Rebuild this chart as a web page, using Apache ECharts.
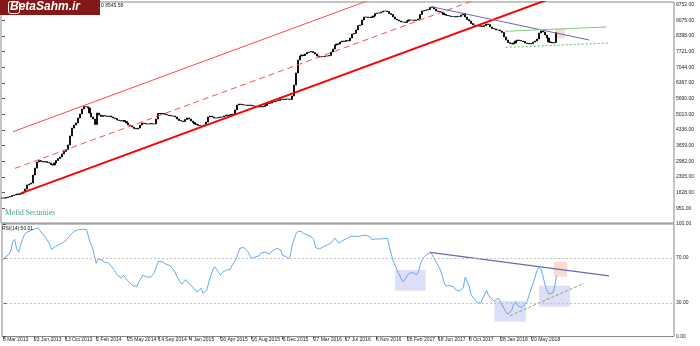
<!DOCTYPE html>
<html><head><meta charset="utf-8">
<script src="https://cdn.jsdelivr.net/npm/echarts@6/dist/echarts.min.js"></script>
<style>html,body{margin:0;padding:0;background:#fff}#c{width:700px;height:346px}</style>
</head><body><div id="c"></div>
<script>
// Weekly closes (starting 3 Mar 2013)
const closes = [
1396,1390,1418,1440,1460,1505,1525,1548,1568,1565,
1590,1655,1785,1958,2000,2045,2390,2690,2952,3015,
2975,2950,2975,2930,2910,2845,2822,2910,3015,3100,
3170,3300,3410,3490,3690,4080,4420,4550,4640,4855,
5030,5245,5350,5345,5290,5070,4900,4810,4575,5070,
4985,4920,4960,4940,4920,4940,4900,4855,4830,4767,
4745,4724,4745,4700,4640,4551,4530,4465,4400,4378,
4420,4550,4640,4615,4595,4595,4615,4595,4595,4810,
5050,5050,5027,5050,5005,4984,4960,4940,4940,4900,
4810,4745,4724,4700,4790,4855,4810,4724,4660,4595,
4575,4530,4508,4508,4551,4680,4900,4940,4900,4855,
4855,4876,4900,4900,4940,4984,4960,4984,5005,5027,
5200,5416,5459,5438,5416,5416,5395,5416,5395,5373,
5351,5330,5351,5330,5351,5395,5459,5480,5502,5545,
5567,5589,5610,5654,5675,5654,5675,5675,5654,5805,
6280,6800,7361,7534,7578,7556,7620,7685,7707,7728,
7685,7620,7534,7491,7513,7513,7534,7534,7556,7707,
7837,8010,8053,8053,8140,8183,8160,8205,8183,8313,
8485,8507,8658,8852,8874,9091,9220,9220,9199,9199,
9220,9264,9372,9393,9393,9437,9480,9480,9458,9372,
9328,9220,9134,9091,9048,9004,9004,8983,9048,9091,
9091,9091,9070,9091,9134,9328,9480,9502,9523,9545,
9631,9653,9566,9480,9458,9437,9393,9328,9307,9285,
9264,9242,9242,9220,9242,9242,9307,9372,9220,9112,
9048,8940,8874,8852,8852,8831,8831,8810,8852,8918,
8896,8788,8723,8701,8658,8658,8615,8550,8356,8226,
8118,8075,8053,8096,8183,8226,8205,8183,8160,8096,
8075,8053,8075,8140,8183,8270,8529,8615,8572,8442,
8313,8140,8118,8096,8118,8546];
// RSI(14) values
const rsi = [
68,70.5,71.6,73,76,84,86.4,78,75,76,
86,90.5,92.5,93.2,94,94.7,95.4,96.2,96.6,97,
92,90,88,85,82,77.5,78.5,80,81,81.8,
82.5,83.5,84.3,86.5,88.5,91,92.5,93.8,94.5,95,
95.3,95.3,95.3,95,94.5,82.8,79.5,72,65,69,
70,68,66,65.2,65.6,64,62.2,59.5,57,54.3,
53,52,54.5,53,50,48.2,47.2,45,44,44.5,
48.5,51.5,54.5,53.8,53,52.8,52.6,53,57,62.5,
67,67.5,66.3,65.3,64.3,63.5,63,62.7,59,55.5,
52,49,46.5,45,50.5,49.5,46.5,45,43.5,42,
39.5,39,43,38.4,40,41.5,48.5,54,59,62,
59.5,57,54.7,57,58,59,59.4,59.8,63.5,66,
68.6,74,78.4,79,79.2,78.5,75.5,72.5,69.5,70.2,
70.8,71.9,71.8,74.5,73.2,75,75.5,73.3,74.8,76.5,
78.2,78.4,77.8,76.9,72,72,71,69,72.5,82,
87,91.7,93.8,94,93,91.2,90.2,90.2,90,88.3,
86.2,79,77.5,77.8,78.5,80,80.8,81.4,82.5,83.2,
85.5,87.5,85,83,84,85.3,86.3,87.2,88.5,89,
88.3,89.2,90,88.8,89.5,89.8,88.5,90,90.2,88.6,
86,85,86.8,87.2,86.6,86.4,87,87.3,87.3,79,
73,66.5,65,59,55,51.5,48.5,50,53.5,56,
57.6,56.8,55.7,54.8,58,65,68.8,71,72.8,74.2,
74.8,72.5,69.5,66,63.2,60,55,48.5,45,44.5,
45.3,45.4,44.2,41.5,42.4,40.4,41.6,43.5,52.8,52.5,
45,37,35.4,33,30,29.7,29.8,30.7,37.5,41,
36.5,34.3,32.8,31.3,30.9,34,32.5,28,24.8,22,
19.8,20.3,23.6,29,30.8,27.5,28,25.8,26.8,29,
31.7,37.5,42.5,47.5,53,59,61.5,59.5,54,46.5,
41.5,38,37.2,38.5,44,54];
const tickLabels = ['3 Mar 2013','23 Jun 2013','13 Oct 2013','2 Feb 2014','25 May 2014','14 Sep 2014','4 Jan 2015','26 Apr 2015','16 Aug 2015','6 Dec 2015','27 Mar 2016','17 Jul 2016','6 Nov 2016','26 Feb 2017','18 Jun 2017','8 Oct 2017','28 Jan 2018','20 May 2018'];
const priceTicks = [951,1628,2305,2982,3659,4336,5013,5690,6367,7044,7721,8398,9075,9752];
const rsiTicks = [0,30,70,100];
const rsiLevels = [30,70];
const totalSlots = 346;
const labelStep = 16;
// trend lines / boxes in data coordinates [week index, value]
const redThick = [[9.65,1599],[280,9955]];
const redThin = [[5.68,4262],[189,9955]];
const redDash = [[6.7,2679],[243.1,9955]];
const blueTop = [[220.8,9666],[301.9,8226]];
const greenTop = [[258.5,8602],[310.9,8788]];
const greenDotTop = [[259,7910],[312.6,8096]];
const pinkTop = [[284.3,8732],[289.3,8299]];
const blueRsi = [[219.9,74.8],[312.1,53.8]];
const greenDotRsi = [[261.1,18.5],[299.2,47.3]];
const pinkRsi = [[283.5,66.5],[290.5,53.2]];
const lavRsi = [[[201.9,59.1],[217.7,40.7]],[[253,31.6],[269.2,13.2]],[[276,45.2],[292,26.5]]];

const cats = [];
for (let i = 0; i < totalSlots; i++) cats.push('w' + i);
const candles = closes.map((c, i) => {
  const o = i === 0 ? c : closes[i - 1];
  return [o, c, Math.min(o, c), Math.max(o, c)];
});
const hasLabel = idx => idx % labelStep === 0 && !!tickLabels[idx / labelStep];

const FONT = '"Liberation Sans", Arial, sans-serif';
const chart = echarts.init(document.getElementById('c'), null, {renderer: 'canvas'});
const lineS = (data, xi, yi, color, width, type, extra) => Object.assign({
  type: 'line', xAxisIndex: xi, yAxisIndex: yi, data: data, showSymbol: false, symbol: 'none',
  clip: true, silent: true, animation: false,
  lineStyle: {color: color, width: width, type: type || 'solid'}, z: 4
}, extra || {});

chart.setOption({
  animation: false,
  backgroundColor: '#fff',
  grid: [
    {left: 1, right: 26, top: 2, height: 221, show: true, borderColor: '#888', borderWidth: 1},
    {left: 1, right: 26, top: 224, height: 112.5, show: true, borderColor: '#888', borderWidth: 1}
  ],
  xAxis: [
    {type: 'category', gridIndex: 0, data: cats, boundaryGap: true, axisLabel: {show: false}, axisTick: {show: false}, axisLine: {show: false}, splitLine: {show: false}},
    {type: 'category', gridIndex: 1, data: cats, boundaryGap: true, axisLine: {show: false},
      axisTick: {show: true, interval: (idx) => hasLabel(idx), alignWithLabel: true, length: 3, inside: false, lineStyle: {color: '#555'}},
      axisLabel: {show: true, interval: (idx) => hasLabel(idx), align: 'left', margin: 1, fontSize: 5, fontFamily: FONT, color: '#222',
        formatter: (v, idx) => hasLabel(idx) ? tickLabels[idx / labelStep] : ''},
      splitLine: {show: false}},
    {type: 'value', gridIndex: 0, min: -0.5, max: totalSlots - 0.5, show: false},
    {type: 'value', gridIndex: 1, min: -0.5, max: totalSlots - 0.5, show: false}
  ],
  yAxis: [
    {type: 'value', gridIndex: 0, position: 'right', min: 316, max: 9869, splitLine: {show: false}, axisLine: {show: false},
      axisTick: {show: true, length: 3, customValues: priceTicks, lineStyle: {color: '#555'}},
      axisLabel: {show: true, customValues: priceTicks, margin: 2, fontSize: 5, fontFamily: FONT, color: '#222', formatter: v => v.toFixed(2)}},
    {type: 'value', gridIndex: 1, position: 'right', min: 0, max: 100, splitLine: {show: false}, axisLine: {show: false},
      axisTick: {show: true, length: 3, customValues: rsiTicks, lineStyle: {color: '#555'}},
      axisLabel: {show: true, customValues: rsiTicks, margin: 2, fontSize: 5, fontFamily: FONT, color: '#222', formatter: v => v.toFixed(2)}}
  ],
  series: [
    {type: 'candlestick', xAxisIndex: 0, yAxisIndex: 0, data: candles, barWidth: 1.6, silent: true, z: 3,
      itemStyle: {color: '#000', color0: '#000', borderColor: '#000', borderColor0: '#000', borderWidth: 0.85}},
    lineS(redThick, 2, 0, '#ff0000', 2),
    lineS(redThin, 2, 0, '#ff4a4a', 1),
    lineS(redDash, 2, 0, '#ff4a4a', 1, [6, 4]),
    lineS(blueTop, 2, 0, '#6a6ab4', 1, 'solid', {
      markArea: {silent: true, itemStyle: {color: 'rgba(250,205,198,0.75)'}, data: [[{coord: pinkTop[0]}, {coord: pinkTop[1]}]]}}),
    lineS(greenTop, 2, 0, '#86c586', 1),
    lineS(greenDotTop, 2, 0, '#66bb66', 1, [2, 2]),
    {type: 'line', xAxisIndex: 1, yAxisIndex: 1, data: rsi, showSymbol: false, symbol: 'none', silent: true, z: 3,
      lineStyle: {color: '#62aaf2', width: 1},
      markLine: {silent: true, symbol: 'none', label: {show: false}, lineStyle: {color: '#c4c4c4', type: [2, 2], width: 1},
        data: rsiLevels.map(v => ({yAxis: v}))}},
    lineS(blueRsi, 3, 1, '#6a6ab4', 1.3, 'solid', {
      markArea: {silent: true, itemStyle: {color: 'rgba(200,200,242,0.6)'},
        data: lavRsi.map(r => [{coord: r[0]}, {coord: r[1]}])}}),
    lineS(greenDotRsi, 3, 1, '#66bb66', 1, [3, 2], {
      markArea: {silent: true, itemStyle: {color: 'rgba(250,205,198,0.75)'}, data: [[{coord: pinkRsi[0]}, {coord: pinkRsi[1]}]]}})
  ],
  graphic: [
    {type: 'rect', shape: {x: 0, y: 0, width: 100, height: 15}, style: {fill: '#861719'}, z: 100},
    {type: 'rect', shape: {x: 8.5, y: 1.5, width: 11, height: 12, r: 2}, style: {fill: 'none', stroke: '#fff', lineWidth: 1}, z: 101},
    {type: 'text', x: 10, y: 1, style: {text: 'BetaSahm.ir', fill: '#fff', font: 'italic bold 12px "Liberation Sans", Arial, sans-serif'}, z: 101},
    {type: 'text', x: 101, y: 3, style: {text: '0 8545.58', fill: '#222', font: '5px "Liberation Sans", Arial, sans-serif'}, z: 100},
    {type: 'text', x: 5, y: 209, style: {text: 'Mofid Securities', fill: '#3a9c8c', font: '7.5px "Liberation Serif", "DejaVu Serif", serif'}, z: 100},
    {type: 'text', x: 2, y: 226, style: {text: 'RSI(14) 50.01', fill: '#111', font: '5px "Liberation Sans", Arial, sans-serif'}, z: 100}
  ]
});
</script></body></html>
